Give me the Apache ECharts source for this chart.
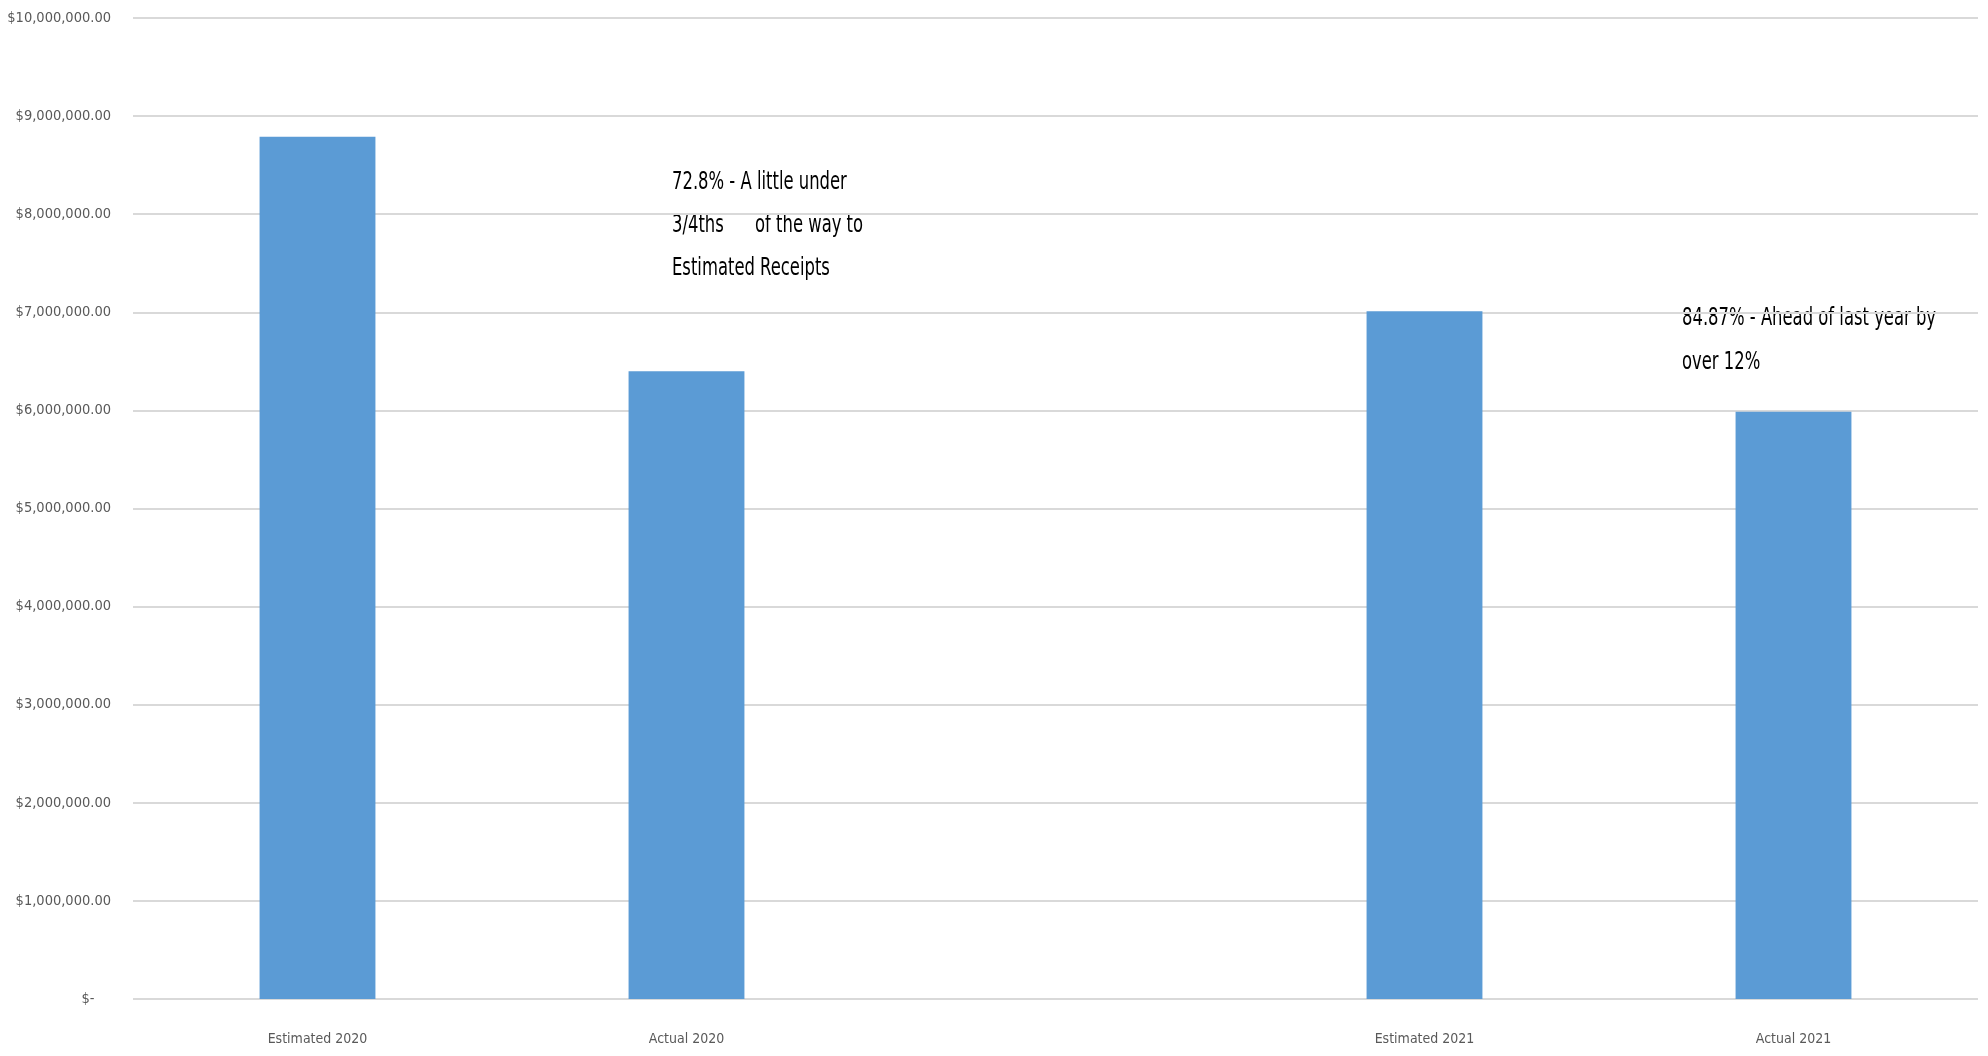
<!DOCTYPE html>
<html>
<head>
<meta charset="utf-8">
<script src="https://cdn.jsdelivr.net/npm/echarts@6/dist/echarts.min.js"></script>
<style>html,body{margin:0;padding:0;background:#fff}#c{width:1988px;height:1056px}</style>
</head>
<body>
<div id="c"></div>
<script>
const categories = ['Estimated 2020', 'Actual 2020', '', 'Estimated 2021', 'Actual 2021'];
const receipts = [8790000, 6400000, null, 7010000, 5985000];
const annotation1 = ['72.8% - A little under', '3/4ths      of the way to', 'Estimated Receipts'];
const annotation2 = ['84.87% - Ahead of last year by', 'over 12%'];

const FONT = 'DejaVu Sans Condensed';
function money(v) {
  if (v === 0) return '$-    ';
  return '$' + v.toLocaleString('en-US', {minimumFractionDigits: 2, maximumFractionDigits: 2});
}
const chart = echarts.init(document.getElementById('c'));
chart.setOption({
  animation: false,
  grid: {left: 133, right: 10, top: 18, bottom: 57, outerBoundsMode: 'none', containLabel: false},
  xAxis: {
    type: 'category',
    data: categories,
    axisLine: {show: false},
    axisTick: {show: false},
    axisLabel: {color: '#595959', fontFamily: FONT, fontSize: 14, margin: 33}
  },
  yAxis: {
    type: 'value',
    min: 0, max: 10000000, interval: 1000000,
    axisLine: {show: false},
    axisTick: {show: false},
    splitLine: {lineStyle: {color: '#d9d9d9', width: 2}},
    axisLabel: {color: '#595959', fontFamily: FONT, fontSize: 14.5, margin: 22, formatter: money}
  },
  series: [{
    type: 'bar',
    data: receipts,
    barWidth: '31.4%',
    itemStyle: {color: '#5b9bd5'}
  }],
  graphic: [
    {type: 'text', left: 672, top: 161, scaleX: 0.76, style: {text: annotation1.join('\n'), fill: '#000', fontFamily: FONT, fontSize: 24, lineHeight: 43}},
    {type: 'text', left: 1682, top: 297, scaleX: 0.76, style: {text: annotation2.join('\n'), fill: '#000', fontFamily: FONT, fontSize: 24, lineHeight: 44}}
  ]
});
</script>
</body>
</html>
